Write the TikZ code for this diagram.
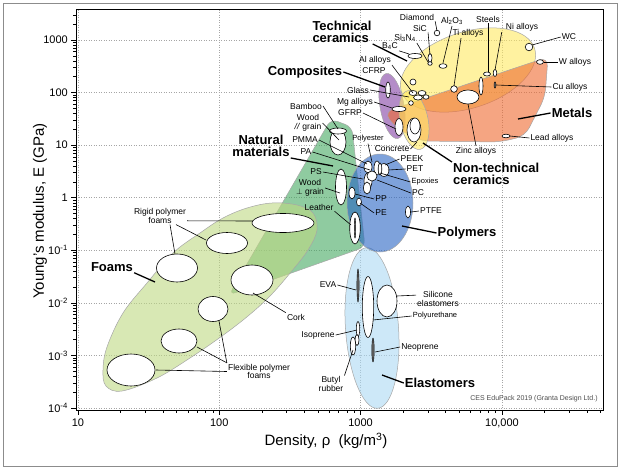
\documentclass[tikz,border=0pt]{standalone}
\usepackage{fontspec}
\setmainfont{Liberation Sans}

\definecolor{foamc}{RGB}{190,216,130}
\definecolor{natc}{RGB}{68,168,97}
\definecolor{polyc}{RGB}{40,100,195}
\definecolor{elastc}{RGB}{172,217,243}
\definecolor{compc}{RGB}{130,63,163}
\definecolor{ceramc}{RGB}{255,233,97}
\definecolor{metalc}{RGB}{238,105,47}

\begin{document}
\begin{tikzpicture}[x=1pt,y=-1pt,
  env/.style={draw=black!35,line width=0.5pt,fill opacity=0.6},
  bub/.style={draw=black,line width=0.6pt,fill=white},
  dbub/.style={draw=black,fill=black!60,line width=0.4pt},
  lbl/.style={font=\fontsize{8.5}{8.5}\selectfont,inner sep=1pt,align=center},
  slbl/.style={font=\fontsize{7.5}{8}\selectfont,inner sep=1pt},
  grp/.style={font=\bfseries\fontsize{13}{12}\selectfont,inner sep=1pt,align=left},
  tick/.style={font=\fontsize{11}{12}\selectfont,inner sep=1pt},
  axt/.style={font=\fontsize{15}{16}\selectfont,inner sep=1pt},
  grid/.style={black!35,dotted,line width=0.5pt},
  lead/.style={line width=0.6pt},
  glead/.style={line width=1.3pt}]
			%%%%% START %%%%%
			\useasboundingbox (0,0) rectangle (624,469);
			\draw[black!45] (3,3) rectangle (617,466);
			
			% grid
			\foreach \gx in {78,219.3,360.6,502}
			  \draw[grid] (\gx,9.5) -- (\gx,410);
			\foreach \gy in {40,92.6,145.1,197.7,250.3,302.9,355.4,408}
			  \draw[grid] (76,\gy) -- (603,\gy);
			
			% envelopes
			\draw[env,fill=natc,rounded corners=7pt] (229,295) -- (331,119) -- (352,127) -- (365,247) -- cycle;
			\draw[env,fill=foamc] plot[smooth cycle,tension=0.6] coordinates {(103,370) (107,347) (123,313) (147,283) (173,253) (200,233) (223,218) (247,208) (272,203) (297,205) (313,213) (317,230) (308,250) (291,272) (270,296) (248,316) (222,336) (190,358) (157,378) (122,391) (106,386)};
			\draw[env,fill=elastc] (372,328) ellipse [x radius=26.5,y radius=80.5,rotate=4];
			\draw[env,fill=polyc] (380,203) ellipse (33 and 49);
			\draw[env,fill=compc] (392,106) ellipse [x radius=12,y radius=33,rotate=10];
			\draw[env,fill=ceramc] (468,70) ellipse [x radius=70,y radius=38,rotate=18];
			\draw[env,fill=metalc,rounded corners=9pt] (384,112) -- (548,57) -- (545,97) -- (525,136) -- (500,142) -- (420,141) -- (395,127) -- cycle;
			\draw[env,fill=ceramc] (414,120) ellipse [x radius=14,y radius=30,rotate=12];
			
			% ceramics and metals
			\draw[bub] (437,33) circle (2.8);
			\draw[bub] (443,66) ellipse (4 and 2.3);
			\draw[bub] (430,58) ellipse (2 and 4.5);
			\draw[bub] (430,63.5) ellipse (2.2 and 1.8);
			\draw[bub] (415,56) ellipse (7 and 2.5);
			\draw[bub] (413,82) circle (3);
			\draw[bub] (454,89) circle (3.3);
			\draw[bub] (487,74) ellipse (3.5 and 2);
			\draw[bub] (495,73) ellipse (1.8 and 3.5);
			\draw[dbub] (495,85) ellipse (1 and 3.2);
			\draw[bub] (481,86) ellipse (2 and 9);
			\draw[bub] (468,97) ellipse (11 and 7);
			\draw[bub] (529,47) circle (3.8);
			\draw[bub] (540,62) ellipse (3.5 and 2.3);
			\draw[bub] (506,136) ellipse (4 and 1.8);
			\draw[bub] (413,93) ellipse (4 and 2.5);
			\draw[bub] (422,93) ellipse (4 and 2.5);
			\draw[bub] (418,97.5) ellipse (4.5 and 2.5);
			\draw[bub] (426,97) ellipse (3 and 2.2);
			\draw[bub] (411,103) circle (2.3);
			
			% composites, concrete
			\draw[bub] (388,90) ellipse (2.3 and 8);
			\draw[bub] (399,109) ellipse (7 and 2.5);
			\draw[bub] (399,127) ellipse (4 and 8.5);
			\draw[bub] (414,130) ellipse (7 and 12);
			\draw[bub] (415,126) ellipse (5 and 8);
			
			% natural materials
			\draw[bub] (338,142) ellipse (8 and 13);
			\draw[bub] (338,131) ellipse (8.5 and 3);
			\draw[bub] (341,187) ellipse (5.5 and 18);
			\draw[bub] (355,228) ellipse (5.3 and 16);
			\draw[dbub] (355,228) ellipse (0.8 and 10);
			
			% polymers
			\draw[bub] (352,193) ellipse (3 and 6);
			\draw[bub] (359,202) ellipse (2.5 and 4);
			\draw[bub] (408,212) ellipse (2.5 and 6);
			\draw[bub] (368,167) ellipse (4 and 6);
			\draw[bub] (377,168) ellipse (3 and 7);
			\draw[bub] (384,170) ellipse (5 and 6.5);
			\draw[bub] (380,169) ellipse (1.8 and 6);
			\draw[bub] (368,181) ellipse (4 and 8);
			\draw[bub] (372,176) ellipse (5 and 5);
			\draw[bub] (367,188) ellipse (3.5 and 6);
			
			% foams
			\draw[bub] (283,223) ellipse (31 and 9.5);
			\draw[bub] (227,243) ellipse (20.5 and 10.5);
			\draw[bub] (177,268) ellipse (20.5 and 14);
			\draw[bub] (252,280) ellipse (21 and 15);
			\draw[bub] (213,309) ellipse (15 and 12.5);
			\draw[bub] (179,341) ellipse (18 and 12);
			\draw[bub] (131,370) ellipse (24 and 16);
			
			% elastomers
			\draw[dbub] (358,285.5) ellipse (1.1 and 16.5);
			\draw[bub] (368,307) ellipse (5.7 and 30.5);
			\draw[bub] (387,301) ellipse (10 and 16);
			\draw[bub] (358,329) ellipse (1.7 and 7.5);
			\draw[bub] (357,340) ellipse (2 and 5.5);
			\draw[bub] (353,346) ellipse (2.7 and 9);
			\draw[dbub] (373,350) ellipse (1.2 and 12);
			
			% axes
			\draw[line width=0.6pt] (76,9.5) rectangle (603,410);
			\foreach \d in {1,...,4}
			  \foreach \k in {1,...,9} {
			    \pgfmathsetmacro{\tx}{78+141.3*(\d-1+log10(\k))}
			    \pgfmathsetmacro{\tl}{\k==1 ? 5 : 3}
			    \ifdim\tx pt<603pt \draw[line width=0.6pt] (\tx,410) -- (\tx,410+\tl); \fi
			  }
			\foreach \d in {-4,...,3}
			  \foreach \k in {1,...,9} {
			    \pgfmathsetmacro{\ty}{40+52.57*(3-(\d)-log10(\k))}
			    \pgfmathsetmacro{\tl}{\k==1 ? 5 : 3}
			    \ifdim\ty pt>9.5pt \draw[line width=0.6pt] (76,\ty) -- (76-\tl,\ty); \fi
			  }
			
			\node[tick] (tx1) at (78,423) {10};
			\node[tick] (tx2) at (219.3,423) {100};
			\node[tick] (tx3) at (360.6,423) {1000};
			\node[tick] (tx4) at (502,423) {10,000};
			\node[tick,anchor=east] (ty1) at (69,40) {1000};
			\node[tick,anchor=east] (ty2) at (69,92.6) {100};
			\node[tick,anchor=east] (ty3) at (69,145.1) {10};
			\node[tick,anchor=east] (ty4) at (69,197.7) {1};
			\node[tick,anchor=east] (ty5) at (69,250.3) {10\textsuperscript{-1}};
			\node[tick,anchor=east] (ty6) at (69,302.9) {10\textsuperscript{-2}};
			\node[tick,anchor=east] (ty7) at (69,355.4) {10\textsuperscript{-3}};
			\node[tick,anchor=east] (ty8) at (69,408) {10\textsuperscript{-4}};
			\node[axt,rotate=90] (ytitle) at (40,211) {Young's modulus, E (GPa)};
			\node[axt] (xtitle) at (326,441) {Density, ρ\ \ (kg/m\textsuperscript{3})};
			
			% labels: ceramics and metals
			\node[lbl] (diamondL) at (417,17) {Diamond};
			\node[lbl] (al2o3L) at (452,21) {Al\textsubscript{2}O\textsubscript{3}};
			\node[lbl] (sicL) at (420,28) {SiC};
			\node[lbl] (si3n4L) at (405,38) {Si\textsubscript{3}N\textsubscript{4}};
			\node[lbl] (b4cL) at (390,46) {B\textsubscript{4}C};
			\node[grp] (techL) at (342,32) {Technical\\ceramics};
			\node[lbl] (tiL) at (468,33) {Ti alloys};
			\node[lbl] (steelsL) at (488,19) {Steels};
			\node[lbl] (niL) at (522,27) {Ni alloys};
			\node[lbl] (wcL) at (569,37) {WC};
			\node[lbl] (wL) at (575,62) {W alloys};
			\node[lbl] (cuL) at (570,87) {Cu alloys};
			\node[grp] (metalsL) at (572,113) {Metals};
			\node[lbl] (leadL) at (552,138) {Lead alloys};
			\node[lbl] (zincL) at (476,151) {Zinc alloys};
			\node[grp,anchor=west] (nontechL) at (452,174) {Non-technical\\ceramics};
			\node[grp] (compL) at (305,72) {Composites};
			\node[lbl] (alL) at (375,60) {Al alloys};
			\node[lbl] (cfrpL) at (374,71) {CFRP};
			\node[lbl] (glassL) at (358,90) {Glass};
			\node[lbl] (mgL) at (355,102) {Mg alloys};
			\node[lbl] (gfrpL) at (350,113) {GFRP};
			
			\coordinate (diamond) at (437,31);
			\coordinate (al2o3) at (443,63);
			\coordinate (sic) at (430,55);
			\coordinate (si3n4) at (428,62);
			\coordinate (b4c) at (409,54);
			\coordinate (techc) at (407,61);
			\coordinate (ti) at (454,86);
			\coordinate (steels) at (488,72);
			\coordinate (ni) at (495,70);
			\coordinate (wc) at (532,45);
			\coordinate (walloy) at (543.5,62);
			\coordinate (cu) at (496,85);
			\coordinate (metals) at (518,119);
			\coordinate (leadal) at (510,136);
			\coordinate (zinc) at (468,104);
			\coordinate (nontech) at (423,143);
			\coordinate (comp) at (385,87);
			\coordinate (al) at (413,93);
			\coordinate (glass) at (409,97);
			\coordinate (mg) at (392,108);
			\coordinate (gfrp) at (396,129);
			
			\draw[lead] (diamondL.south east) -- (diamond);
			\draw[lead] (al2o3L.south) -- (al2o3);
			\draw[lead] (sicL.south east) -- (sic);
			\draw[lead] (si3n4L.south east) -- (si3n4);
			\draw[lead] (b4cL.south east) -- (b4c);
			\draw[glead] (techL.south east) -- (techc);
			\draw[lead] ([xshift=-7pt]tiL.south) -- (ti);
			\draw[lead] (steelsL.south) -- (steels);
			\draw[lead] ([xshift=-3pt]niL.south west) -- (ni);
			\draw[lead] (wcL.west) -- (wc);
			\draw[lead] (wL.west) -- (walloy);
			\draw[lead] (cuL.west) -- (cu);
			\draw[glead] (metalsL.west) -- (metals);
			\draw[lead] (leadL.west) -- (leadal);
			\draw[lead] (zincL.north) -- (zinc);
			\draw[glead] (nontechL.north west) -- (nontech);
			\draw[glead] (compL.east) -- (comp);
			\draw[lead] (alL.south east) -- (al);
			\draw[lead] (glassL.east) -- (glass);
			\draw[lead] (mgL.east) -- (mg);
			\draw[lead] (gfrpL.east) -- (gfrp);
			
			% labels: natural materials and polymers
			\node[lbl] (bambooL) at (306,106) {Bamboo};
			\node[lbl] (woodparL) at (308,123) {Wood\\\textit{//} grain};
			\node[lbl] (pmmaL) at (305,140) {PMMA};
			\node[lbl] (paL) at (306,152) {PA};
			\node[grp,align=center] (natL) at (261,146) {Natural\\materials};
			\node[lbl] (psL) at (316,172) {PS};
			\node[lbl] (woodperpL) at (310,188) {Wood\\$\perp$ grain};
			\node[lbl] (leatherL) at (319,207) {Leather};
			\node[slbl] (polyesterL) at (368,139) {Polyester};
			\node[lbl] (concreteL) at (392,149) {Concrete};
			\node[lbl] (peekL) at (412,159) {PEEK};
			\node[lbl] (petL) at (415,169) {PET};
			\node[slbl] (epoxL) at (425,182) {Epoxies};
			\node[lbl] (pcL) at (418,193) {PC};
			\node[lbl] (ppL) at (381,199) {PP};
			\node[lbl] (peL) at (381,213) {PE};
			\node[lbl] (ptfeL) at (431,211) {PTFE};
			\node[grp] (polymersL) at (467,233) {Polymers};
			
			\coordinate (bamboo) at (338,129);
			\coordinate (woodpar) at (339,140);
			\coordinate (pmma) at (367,164);
			\coordinate (pa) at (370,170);
			\coordinate (nat) at (333,166);
			\coordinate (ps) at (363,179);
			\coordinate (woodperp) at (340,193);
			\coordinate (leather) at (351,225);
			\coordinate (polyester) at (372,162);
			\coordinate (concrete) at (417,142);
			\coordinate (peek) at (385,165);
			\coordinate (pet) at (388,170);
			\coordinate (epox) at (380,173);
			\coordinate (pc) at (377,180);
			\coordinate (pp) at (355,194);
			\coordinate (pe) at (360,203);
			\coordinate (ptfe) at (411,212);
			\coordinate (polymers) at (402,226);
			
			\draw[lead] (bambooL.east) -- (bamboo);
			\draw[lead] (woodparL.east) -- (woodpar);
			\draw[lead] (pmmaL.east) -- (pmma);
			\draw[lead] (paL.east) -- (pa);
			\draw[glead] (natL.south east) -- (nat);
			\draw[lead] (psL.east) -- (ps);
			\draw[lead] (woodperpL.east) -- (woodperp);
			\draw[lead] (leatherL.south east) -- (leather);
			\draw[lead] (polyesterL.south) -- (polyester);
			\draw[lead] (concreteL.east) -- (concrete);
			\draw[lead] (peekL.west) -- (peek);
			\draw[lead] (petL.west) -- (pet);
			\draw[lead] (epoxL.west) -- (epox);
			\draw[lead] (pcL.west) -- (pc);
			\draw[lead] (ppL.west) -- (pp);
			\draw[lead] (peL.west) -- (pe);
			\draw[lead] (ptfeL.west) -- (ptfe);
			\draw[glead] (polymersL.west) -- (polymers);
			
			% labels: foams
			\node[lbl] (rigidL) at (160,216) {Rigid polymer\\foams};
			\node[grp] (foamsL) at (112,267) {Foams};
			\node[lbl] (corkL) at (296,317) {Cork};
			\node[lbl] (flexL) at (259,371.5) {Flexible polymer\\foams};
			
			\coordinate (rigidA) at (253,221);
			\coordinate (rigidB) at (206,240);
			\coordinate (rigidC) at (175,254);
			\coordinate (foams) at (155,282);
			\coordinate (cork) at (253,293);
			\coordinate (flexA) at (156,370);
			\coordinate (flexB) at (197,347);
			\coordinate (flexC) at (219,321);
			
			\draw[lead] (rigidL.-10) -- (rigidA);
			\draw[lead] ([xshift=16pt]rigidL.south) -- (rigidB);
			\draw[lead] ([xshift=10pt]rigidL.south) -- (rigidC);
			\draw[glead] (foamsL.south east) -- (foams);
			\draw[lead] (corkL.north west) -- (cork);
			\draw[lead] (flexL.west) -- (flexA);
			\draw[lead] (flexL.165) -- (flexB);
			\draw[lead] (flexL.north west) -- (flexC);
			
			% labels: elastomers
			\node[lbl] (evaL) at (328,285) {EVA};
			\node[lbl] (siliconeL) at (438,299) {Silicone\\elastomers};
			\node[slbl] (puL) at (435,316) {Polyurethane};
			\node[lbl] (isoL) at (318,335) {Isoprene};
			\node[lbl] (butylL) at (331,384) {Butyl\\rubber};
			\node[lbl] (neoL) at (420,347) {Neoprene};
			\node[grp] (elastL) at (440,383) {Elastomers};
			
			\coordinate (eva) at (356,290);
			\coordinate (silicone) at (397,296);
			\coordinate (pu) at (373,320);
			\coordinate (iso) at (357,330);
			\coordinate (butyl) at (353,350);
			\coordinate (neo) at (375,352);
			\coordinate (elast) at (382,375);
			
			\draw[lead] (evaL.east) -- (eva);
			\draw[lead] (siliconeL.170) -- (silicone);
			\draw[lead] (puL.west) -- (pu);
			\draw[lead] (isoL.east) -- (iso);
			\draw[lead] (butylL.north east) -- (butyl);
			\draw[lead] (neoL.west) -- (neo);
			\draw[glead] (elastL.west) -- (elast);
			
			\node[font=\fontsize{7}{8}\selectfont,text=black!70] (credit) at (534,399) {CES EduPack 2019 (Granta Design Ltd.)};
			
			%%%%% END %%%%%
\end{tikzpicture}
\end{document}
